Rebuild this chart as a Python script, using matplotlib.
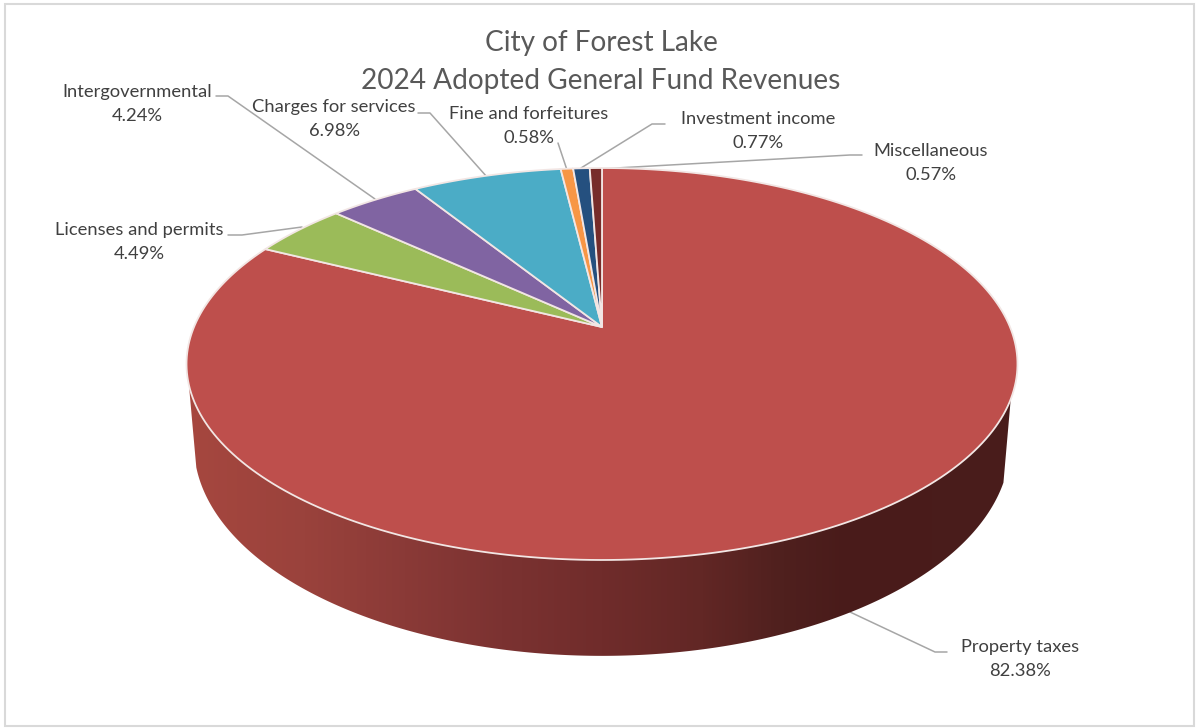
import numpy as np
import matplotlib
matplotlib.use("Agg")
import matplotlib.pyplot as plt
from matplotlib.patches import Polygon, Rectangle
from matplotlib.path import Path
from matplotlib.transforms import Transform, Affine2D
from matplotlib.colors import LinearSegmentedColormap

# ---------- data ----------
categories = ["Property taxes", "Licenses and permits", "Intergovernmental",
              "Charges for services", "Fine and forfeitures",
              "Investment income", "Miscellaneous"]
shares = [82.38, 4.49, 4.24, 6.98, 0.58, 0.77, 0.57]
title_lines = ["City of Forest Lake", "2024 Adopted General Fund Revenues"]
slice_colors = ["#BE4F4C", "#9BBB59", "#8064A2", "#4BACC6", "#F79646", "#25507F", "#772C2A"]

# ---------- layout (pixel space) ----------
W, H = 1198, 728
K = 0.1888                         # perspective strength
TOP = dict(x0=602.0, y0=327.0, a=189.0, b=408.0)
BOT = dict(x0=602.0, y0=405.0, a=203.5, b=400.7)

label_pos = {"Property taxes": (1020, 646), "Licenses and permits": (139, 229),
             "Intergovernmental": (137, 91), "Charges for services": (334, 106),
             "Fine and forfeitures": (529, 113), "Investment income": (758, 118),
             "Miscellaneous": (931, 150)}
leaders = {"Property taxes": [(947, 652), (935, 652), (850, 612)],
           "Licenses and permits": [(228, 235), (242, 235), (302, 227)],
           "Intergovernmental": [(216, 96), (228, 96), (375, 199)],
           "Charges for services": [(418, 113), (430, 113), (487, 177)],
           "Fine and forfeitures": [(558, 143), (567, 170)],
           "Investment income": [(665, 124), (652, 124), (581, 168)],
           "Miscellaneous": [(862, 155), (850, 155), (598, 169)]}

plt.rcParams["font.family"] = ["Lato", "DejaVu Sans"]


def project(x, y, p):
    w = 1 + K * y
    return p["x0"] + p["b"] * x / w, p["y0"] - p["a"] * y / w


class Perspective(Transform):
    input_dims = output_dims = 2
    has_inverse = False
    is_separable = False

    def transform_non_affine(self, values):
        v = np.asarray(values, float)
        return np.column_stack(project(v[:, 0], v[:, 1], TOP))

    def transform_path_non_affine(self, path):
        polys = path.transformed(Affine2D().scale(2000)).to_polygons(closed_only=True)
        verts = np.asarray(polys[0]) / 2000.0
        return Path(self.transform_non_affine(verts))


fig = plt.figure(figsize=(W / 100, H / 100), dpi=100, facecolor="white")
ax = fig.add_axes([0, 0, 1, 1])

wedges, _ = ax.pie(shares, colors=slice_colors, startangle=90, counterclock=False,
                   radius=1.0, wedgeprops=dict(edgecolor="#F2E6E4", linewidth=1.3, zorder=3))
persp = Perspective()
for w in wedges:
    w.set_transform(persp + ax.transData)
    w.set_clip_on(False)

# side wall of the largest slice, shaded left to right in vertical bands
wall_cmap = LinearSegmentedColormap.from_list("wall", [
    (0.00, "#A6473F"), (0.14, "#9A423C"), (0.26, "#8A3A37"), (0.38, "#7B3231"),
    (0.50, "#702C2B"), (0.62, "#622725"), (0.72, "#4F201E"), (0.80, "#491B1A"),
    (1.00, "#4A1D1C")])
t = np.linspace(np.arcsin(-0.356), -np.pi - np.arcsin(-0.29), 500)
tx, ty = project(np.cos(t), np.sin(t), TOP)
bx, by = project(np.cos(t), np.sin(t), BOT)
outline = np.vstack([np.column_stack([tx, ty]), np.column_stack([bx, by])[::-1]])
wall = Polygon(outline, closed=True, facecolor="none", edgecolor="none", transform=ax.transData)
ax.add_patch(wall)
band = np.linspace(0, 1, 256).reshape(1, -1)
im = ax.imshow(band, cmap=wall_cmap, vmin=0, vmax=1, extent=(187, 1018, 670, 360),
               aspect="auto", interpolation="bilinear", zorder=2)
im.set_clip_path(wall)

ax.set_aspect("auto")
ax.set_xlim(0, W)
ax.set_ylim(H, 0)
ax.axis("off")

# chart border
ax.add_patch(Rectangle((5, 4), 1189, 722, fill=False, edgecolor="#D9D9D9", linewidth=1.5, zorder=0))

# leader lines
for name, pts in leaders.items():
    xs, ys = zip(*pts)
    ax.plot(xs, ys, color="#A6A6A6", linewidth=1.1, zorder=1.5, solid_capstyle="round", solid_joinstyle="round")

# data labels
for name, share in zip(categories, shares):
    x, y = label_pos[name]
    ax.text(x, y + 1, name, ha="center", va="center", fontsize=13.2, color="#404040", zorder=5)
    ax.text(x, y + 25, f"{share:.2f}%", ha="center", va="center", fontsize=13.2, color="#404040", zorder=5)

# title
ax.text(601, 43.5, title_lines[0], ha="center", va="center", fontsize=20.2, color="#595959", zorder=5)
ax.text(601, 81.5, title_lines[1], ha="center", va="center", fontsize=20.2, color="#595959", zorder=5)

fig.savefig("out.png", dpi=100, facecolor="white")
